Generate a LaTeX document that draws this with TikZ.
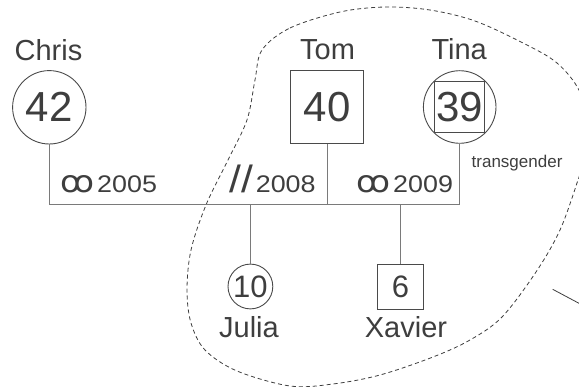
\documentclass[tikz,border=0pt]{standalone}
\usepackage{fontspec}
\setmainfont{Liberation Sans}
\newfontfamily\yearfont[FakeStretch=1.12]{Liberation Sans}
\newfontfamily\symbolfont{DejaVu Sans}
\usetikzlibrary{calc}
\definecolor{ink}{HTML}{3E3E3E}
\definecolor{rule}{HTML}{4A4A4A}
\definecolor{linkgrey}{HTML}{7A7A7A}
\tikzset{
  px/.style={x=1pt,y=-1pt},
  person/.style={draw=rule,line width=0.9pt,inner sep=0pt,text=ink},
  female/.style={person,circle},
  male/.style={person,rectangle},
  bignum/.style={font=\fontsize{42}{42}\selectfont},
  smallnum/.style={font=\fontsize{31}{31}\selectfont},
  nametag/.style={anchor=base,text=ink,inner sep=0pt,font=\fontsize{29}{29}\selectfont},
  yeartag/.style={anchor=base west,text=ink,inner sep=0pt,font=\yearfont\fontsize{24}{24}\selectfont},
  notetag/.style={anchor=base west,text=ink,inner sep=0pt,font=\fontsize{17}{17}\selectfont},
  kin/.style={draw=linkgrey,line width=0.9pt},
  household/.style={draw=ink,line width=0.8pt,dash pattern=on 4pt off 3pt},
}
\newcommand{\wedlock}{\resizebox{34pt}{17pt}{\symbolfont ꝏ}}
\begin{document}
\begin{tikzpicture}[px]
\useasboundingbox (0,0) rectangle (579,387);

% household boundary
\draw[household] plot[smooth cycle,tension=0.55] coordinates {
  (262,50) (290,28) (340,12) (385,7) (430,10) (475,21) (523,43) (557,63)
  (580,92) (592,135) (578,180) (560,230) (536,272) (502,317) (470,340)
  (433,357) (380,375) (333,384) (290,386) (237,371) (205,350) (191,323)
  (187,290) (191,250) (206,205) (228,160) (247,120) (255,80)};

% parents
\node[female,minimum size=73.4pt,bignum] (chris) at (49.3,107.3) {42};
\node[male,minimum size=72.6pt,bignum] (tom) at (327.2,107) {40};
\node[female,minimum size=72.6pt] (tina) at (459.7,107) {};
\node[male,minimum size=50.8pt,bignum] (tinabox) at (459.4,107) {39};

\node[nametag] (chrisname) at (48.5,61) {Chris};
\node[nametag] (tomname) at (327.5,60) {Tom};
\node[nametag] (tinaname) at (459.2,60) {Tina};
\node[notetag] (tinanote) at (471.5,168) {transgender};

% children
\node[female,minimum size=44.8pt,smallnum] (julia) at (250.4,286.5) {10};
\node[male,minimum size=45.4pt,smallnum] (xavier) at (400.6,286.7) {6};
\node[nametag] (julianame) at (249,338) {Julia};
\node[nametag] (xaviername) at (406,338) {Xavier};

% partnership line and descent lines
\coordinate (bar) at (0,204);
\draw[kin] (chris) -- (chris |- bar) -- (tina.south |- bar) -- (tina.south);
\draw[kin] (tom) -- (tom |- bar);
\draw[kin] (julia) -- (julia |- bar);
\draw[kin] (xavier) -- (xavier |- bar);

% union labels
\node[yeartag] (wed1) at (60,193) {\wedlock\hspace{3pt}2005};
\node[yeartag] (split) at (229,193) {{\fontsize{38}{38}\selectfont//}\hspace{3pt}2008};
\node[yeartag] (wed2) at (356,193) {\wedlock\hspace{3pt}2009};

% pointer leaving the frame
\coordinate (tail) at (552.7,289.3);
\coordinate (tailend) at (600,314.5);
\draw[draw=ink,line width=0.8pt] (tail) -- (tailend);
\end{tikzpicture}
\end{document}
